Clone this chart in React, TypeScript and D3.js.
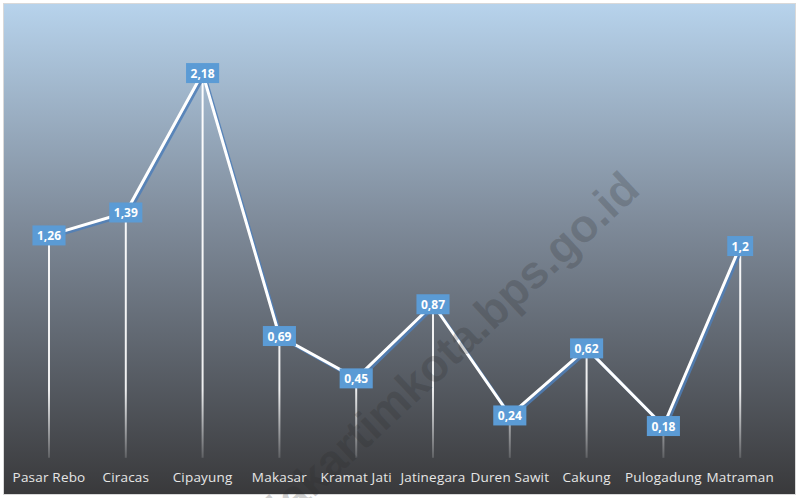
import React from "react";
import * as d3 from "d3";

const categories = ["Pasar Rebo", "Ciracas", "Cipayung", "Makasar", "Kramat Jati", "Jatinegara", "Duren Sawit", "Cakung", "Pulogadung", "Matraman"];
const values = [1.26, 1.39, 2.18, 0.69, 0.45, 0.87, 0.24, 0.62, 0.18, 1.2];
const labels = ["1,26", "1,39", "2,18", "0,69", "0,45", "0,87", "0,24", "0,62", "0,18", "1,2"];

const W = 799, H = 498;

function labelWidth(s: string) {
  let w = 8;
  for (const ch of s) w += ch === "," ? 3.5 : 7.2;
  return w;
}

export default function App() {
  const x = d3.scaleBand<string>().domain(categories).range([10.6, 778.6]);
  const y = d3.scaleLinear().domain([0, 2.5]).range([457.8, 16.6]);
  const cx = (c: string) => (x(c) as number) + x.bandwidth() / 2;
  const pts: [number, number][] = categories.map((c, i) => [cx(c), y(values[i])]);
  const line = d3.line();
  const font = "'Open Sans', sans-serif";
  return (
    <svg width={W} height={H} style={{ position: "absolute", left: 0, top: 0 }} fontFamily={font}>
      <defs>
        <linearGradient id="bg" x1="0" y1="0" x2="0" y2="1">
          <stop offset="0" stopColor="#b7d3ec" />
          <stop offset="0.45" stopColor="#7e8a99" />
          <stop offset="1" stopColor="#39393b" />
        </linearGradient>
        <linearGradient id="drop" gradientUnits="userSpaceOnUse" x1="0" y1="0" x2="0" y2="458">
          <stop offset="0" stopColor="#ffffff" stopOpacity="1" />
          <stop offset="0.85" stopColor="#ffffff" stopOpacity="0.9" />
          <stop offset="1" stopColor="#ffffff" stopOpacity="0.15" />
        </linearGradient>
      </defs>
      <rect x={3.5} y={3.5} width={W - 7} height={H - 7} fill="url(#bg)" stroke="#d9d9d9" strokeWidth={1} />
      {pts.map((p, i) => (
        <line key={"d" + i} x1={p[0]} x2={p[0]} y1={p[1]} y2={y(0)} stroke="url(#drop)" strokeWidth={2} />
      ))}
      <path d={line(pts) as string} transform="translate(2,2)" fill="none" stroke="#4f7fb8" strokeWidth={3} strokeOpacity={0.85} strokeLinejoin="round" />
      <path d={line(pts) as string} fill="none" stroke="#ffffff" strokeWidth={3} strokeLinejoin="round" />
      <text
        transform="translate(642,192) rotate(-43)"
        textAnchor="end"
        fontFamily="'Liberation Sans', Arial, sans-serif"
        fontWeight="bold"
        fontSize={46}
        fill="#2a2a2a"
        fillOpacity={0.22}
      >
        jakartimkota.bps.go.id
      </text>
      {pts.map((p, i) => {
        const w = labelWidth(labels[i]);
        return (
          <g key={"l" + i}>
            <rect x={p[0] - w / 2} y={p[1] - 10} width={w} height={20} fill="#5b9bd5" />
            <text x={p[0]} y={p[1] + 4.5} textAnchor="middle" fill="#ffffff" fontWeight="bold" fontSize={12}>
              {labels[i]}
            </text>
          </g>
        );
      })}
      {categories.map((c) => (
        <text key={c} x={cx(c)} y={482} textAnchor="middle" fill="#e6e6e6" fontSize={13.5} letterSpacing={0.2}>
          {c}
        </text>
      ))}
    </svg>
  );
}
